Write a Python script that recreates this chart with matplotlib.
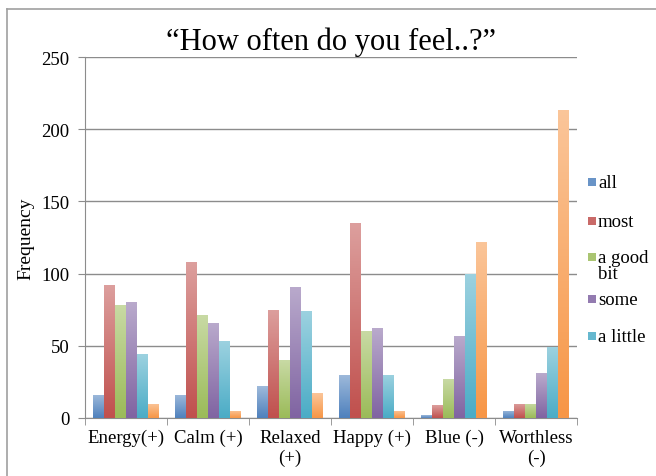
import numpy as np
import matplotlib
matplotlib.use("Agg")
import matplotlib.pyplot as plt
from matplotlib.colors import LinearSegmentedColormap, to_rgb
from matplotlib.patches import Rectangle
from matplotlib.lines import Line2D

categories = ["Energy(+)", "Calm (+)", "Relaxed\n(+)", "Happy (+)", "Blue (-)", "Worthless\n(-)"]
series_names = ["all", "most", "a good\nbit", "some", "a little", "none"]
all_vals = [16, 16, 22, 30, 2, 5]
most_vals = [92, 108, 75, 135, 9, 10]
goodbit_vals = [78, 71, 40, 60, 27, 10]
some_vals = [80, 66, 91, 62, 57, 31]
little_vals = [44, 53, 74, 30, 100, 49]
none_vals = [10, 5, 17, 5, 122, 213]
yticks = [0, 50, 100, 150, 200, 250]

series = [all_vals, most_vals, goodbit_vals, some_vals, little_vals, none_vals]
colors = ["#4f81bd", "#c0504d", "#9bbb59", "#8064a2", "#4bacc6", "#f79646"]

plt.rcParams['font.family'] = ['Liberation Serif', 'DejaVu Serif']

fig = plt.figure(figsize=(6.56, 4.77), dpi=100)
ax = fig.add_axes([0.1296, 0.1216, 0.7500, 0.7568])

n = len(series)
width = 0.134
x = np.arange(len(categories))

def lighten(c, f):
    r, g, b = to_rgb(c)
    return (r + (1 - r) * f, g + (1 - g) * f, b + (1 - b) * f)

for i, (vals, col) in enumerate(zip(series, colors)):
    offs = (i - (n - 1) / 2) * width
    bars = ax.bar(x + offs, vals, width=width, color="none", edgecolor="none", zorder=3,
                  label=series_names[i])
    cmap = LinearSegmentedColormap.from_list("g%d" % i, [col, lighten(col, 0.45)])
    grad = np.linspace(0, 1, 64).reshape(-1, 1)
    for b in bars:
        x0, w, h = b.get_x(), b.get_width(), b.get_height()
        im = ax.imshow(grad, extent=[x0, x0 + w, 0, h], origin="lower", cmap=cmap,
                       aspect="auto", zorder=3, interpolation="bicubic")
        im.set_clip_path(b)

ax.set_xlim(-0.5, len(categories) - 0.5)
ax.set_ylim(0, 250)
ax.set_yticks(yticks)
ax.yaxis.grid(True, color="#8c8c8c", linewidth=1.0, zorder=1)
ax.set_axisbelow(True)

ax.set_xticks(x)
ax.set_xticklabels(categories, fontsize=13.5)
ax.set_xticks(np.arange(len(categories) + 1) - 0.5, minor=True)
ax.tick_params(axis="x", which="major", length=0, pad=8)
ax.tick_params(axis="x", which="minor", length=5, color="#8c8c8c", direction="out")
ax.tick_params(axis="y", length=5, color="#8c8c8c", labelsize=13.5, pad=6)

for s in ["top", "right"]:
    ax.spines[s].set_visible(False)
for s in ["left", "bottom"]:
    ax.spines[s].set_color("#8c8c8c")

ax.set_ylabel("Frequency", fontsize=14, labelpad=5)
ax.set_title("\u201cHow often do you feel..?\u201d", fontsize=22, pad=6)

# legend (first five series), laid out as in the reference
legend_y = [183, 222, 258, 300, 337]   # pixel centres of first text line
W, H = 656.0, 477.0
for name, col, yp in zip(series_names[:5], colors[:5], legend_y):
    fy = 1 - yp / H
    fig.add_artist(Rectangle((588 / W, fy - 4 / H), 8 / W, 8 / H, facecolor=lighten(col, 0.15),
                             edgecolor="none", transform=fig.transFigure))
    fig.text(598 / W, fy + 8 / H, name, fontsize=13.5, ha="left", va="top", linespacing=0.95)

# frame lines
fig.add_artist(Line2D([0.0107, 0.0107], [0.0, 0.979], color="#a0a0a0", linewidth=1.2,
                      transform=fig.transFigure))
fig.add_artist(Line2D([0.0107, 1.0], [0.979, 0.979], color="#a0a0a0", linewidth=1.2,
                      transform=fig.transFigure))

fig.savefig("out.png", dpi=100)
